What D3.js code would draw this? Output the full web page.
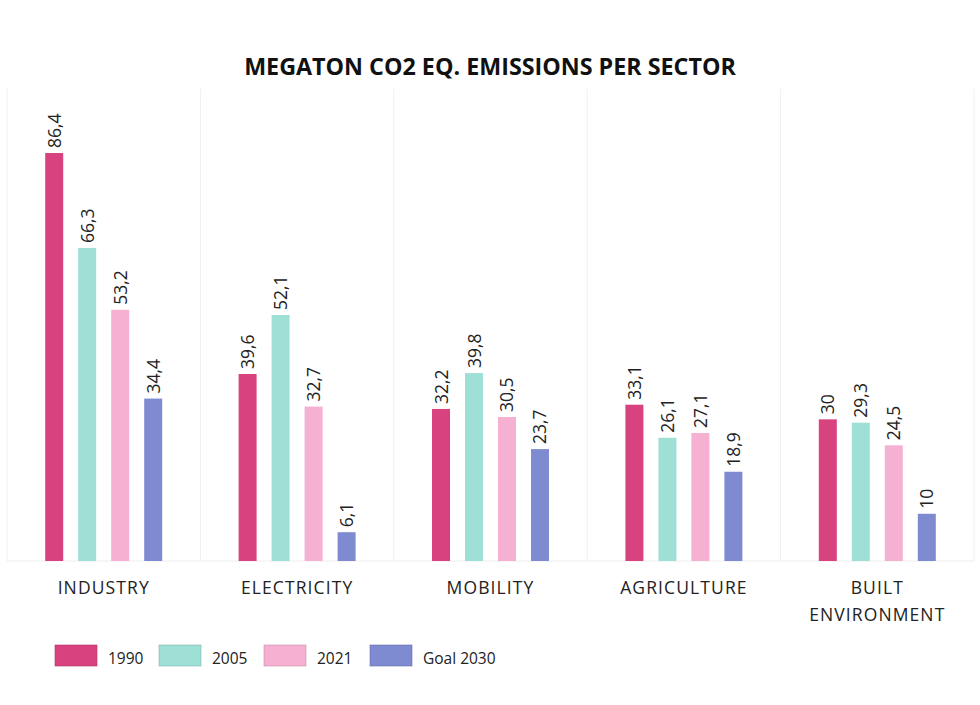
<!DOCTYPE html>
<html><head><meta charset="utf-8">
<script src="https://cdn.jsdelivr.net/npm/d3@7"></script>
<style>body{margin:0;background:#fff;} svg{display:block;font-family:"Open Sans",sans-serif;}</style>
</head><body><svg id="c" width="980" height="705"></svg>
<script>
const categories = ["INDUSTRY","ELECTRICITY","MOBILITY","AGRICULTURE","BUILT ENVIRONMENT"];
const seriesNames = ["1990","2005","2021","Goal 2030"];
const v1990 = [86.4, 39.6, 32.2, 33.1, 30];
const v2005 = [66.3, 52.1, 39.8, 26.1, 29.3];
const v2021 = [53.2, 32.7, 30.5, 27.1, 24.5];
const vGoal = [34.4, 6.1, 23.7, 18.9, 10];
const colors = ["#d8437f","#9fe0d6","#f5b0d2","#7f8bd0"];
const series = [v1990, v2005, v2021, vGoal];

(function(){
const svg = d3.select("#c");
const pL = 7, pR = 974, pT = 88.8, pB = 561;
const x = d3.scaleBand().domain(categories).range([pL, pR]);
const y = d3.scaleLinear().domain([0, 100]).range([pB, pT]);
const inner = d3.scaleBand().domain(seriesNames).range([-58.5, 58.5]).paddingInner(0.4545).paddingOuter(0);

const bounds = categories.map(c => x(c)).concat([pR]);
svg.append("g").selectAll("line").data(bounds).join("line")
  .attr("x1", d => d).attr("x2", d => d).attr("y1", pT).attr("y2", pB)
  .attr("stroke", "#f0f0f0").attr("stroke-width", 1);
svg.append("line").attr("x1", pL).attr("x2", pR).attr("y1", pB).attr("y2", pB)
  .attr("stroke", "#eeeeee");

svg.append("text").attr("x", 490).attr("y", 75).attr("text-anchor", "middle")
  .attr("font-weight", "bold").attr("font-size", 23.3).attr("fill", "#111")
  .text("MEGATON CO2 EQ. EMISSIONS PER SECTOR");

const fmt = v => String(v).replace(".", ",");
const g = svg.append("g");
categories.forEach((c, i) => {
  const cx = x(c) + x.bandwidth() / 2;
  seriesNames.forEach((s, j) => {
    const v = series[j][i];
    const bx = cx + inner(s);
    g.append("rect").attr("x", bx).attr("width", inner.bandwidth())
      .attr("y", y(v)).attr("height", y(0) - y(v)).attr("fill", colors[j]);
    g.append("text")
      .attr("transform", `translate(${bx + inner.bandwidth()/2 + 6.5},${y(v) - 5}) rotate(-90)`)
      .attr("font-size", 17.5).attr("fill", "#222").text(fmt(v));
  });
  const words = c === "BUILT ENVIRONMENT" ? ["BUILT", "ENVIRONMENT"] : [c];
  words.forEach((w, k) => {
    svg.append("text").attr("x", cx).attr("y", 594 + k * 27).attr("text-anchor", "middle")
      .attr("font-size", 17.5).attr("letter-spacing", 1.1).attr("fill", "#222").text(w);
  });
});

const legX = [55, 159, 264, 370];
const leg = svg.append("g");
seriesNames.forEach((s, j) => {
  leg.append("rect").attr("x", legX[j]).attr("y", 645).attr("width", 42).attr("height", 21)
    .attr("fill", colors[j]).attr("stroke", d3.color(colors[j]).darker(0.6)).attr("stroke-width", 0.6);
  leg.append("text").attr("x", legX[j] + 53).attr("y", 664).attr("font-size", 15.5)
    .attr("fill", "#222").text(s);
});
})();
</script></body></html>
